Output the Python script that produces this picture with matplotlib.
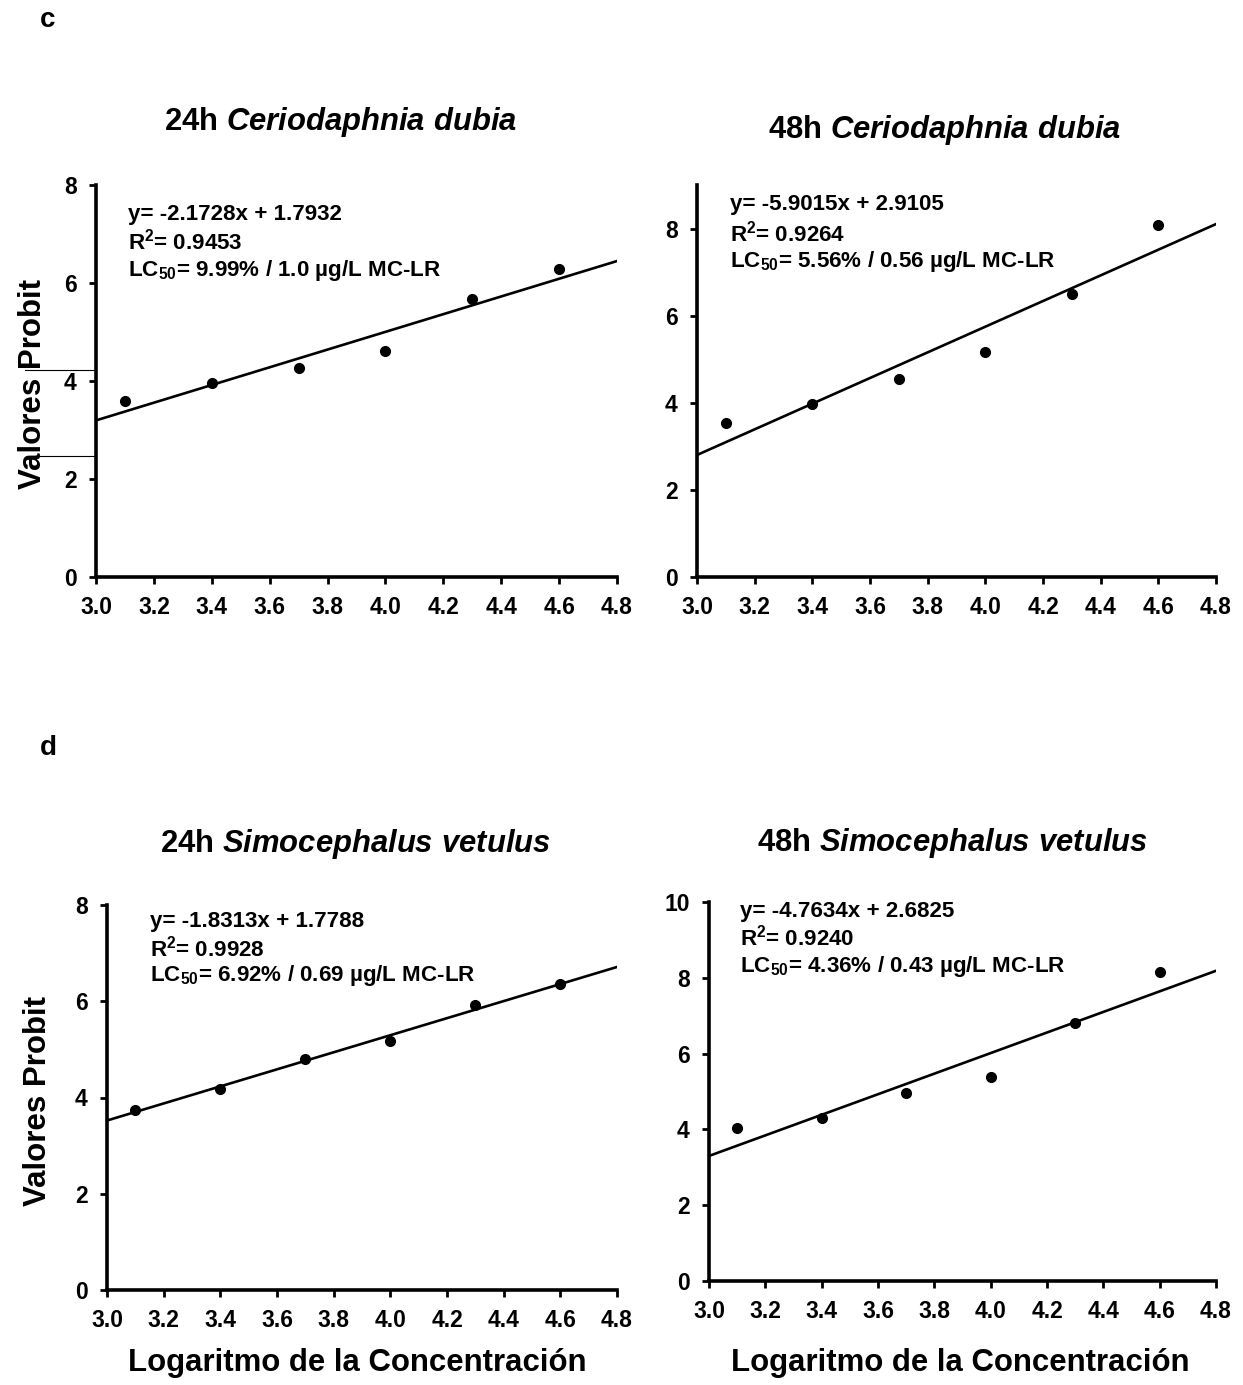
import matplotlib.pyplot as plt
import numpy as np
from matplotlib.lines import Line2D

plt.rcParams['font.family'] = ['Liberation Sans', 'DejaVu Sans']
plt.rcParams['font.weight'] = 'bold'
plt.rcParams['mathtext.fontset'] = 'custom'
plt.rcParams['mathtext.rm'] = 'Liberation Sans:bold'
plt.rcParams['mathtext.bf'] = 'Liberation Sans:bold'
plt.rcParams['mathtext.it'] = 'Liberation Sans:bold:italic'

# log concentration (same for all panels)
log_conc = [3.1, 3.4, 3.7, 4.0, 4.3, 4.6]

# probit values
probit_cd_24 = [3.59, 3.96, 4.27, 4.61, 5.67, 6.29]
probit_cd_48 = [3.54, 3.98, 4.55, 5.17, 6.50, 8.09]
probit_sv_24 = [3.75, 4.17, 4.81, 5.17, 5.92, 6.35]
probit_sv_48 = [4.04, 4.30, 4.96, 5.38, 6.81, 8.15]

titles = [r"24h $\mathit{Ceriodaphnia\ dubia}$", r"48h $\mathit{Ceriodaphnia\ dubia}$",
          r"24h $\mathit{Simocephalus\ vetulus}$", r"48h $\mathit{Simocephalus\ vetulus}$"]

eq_lines = [
    ["y= -2.1728x + 1.7932", r"R$^2$= 0.9453", r"LC$_{50}$= 9.99% / 1.0 µg/L MC-LR"],
    ["y= -5.9015x + 2.9105", r"R$^2$= 0.9264", r"LC$_{50}$= 5.56% / 0.56 µg/L MC-LR"],
    ["y= -1.8313x + 1.7788", r"R$^2$= 0.9928", r"LC$_{50}$= 6.92% / 0.69 µg/L MC-LR"],
    ["y= -4.7634x + 2.6825", r"R$^2$= 0.9240", r"LC$_{50}$= 4.36% / 0.43 µg/L MC-LR"],
]

y_tops = [8, 9, 8, 10]
y_ticks = [[0, 2, 4, 6, 8], [0, 2, 4, 6, 8], [0, 2, 4, 6, 8], [0, 2, 4, 6, 8, 10]]
x_ticks = [3.0, 3.2, 3.4, 3.6, 3.8, 4.0, 4.2, 4.4, 4.6, 4.8]

W, H = 1243, 1385
fig = plt.figure(figsize=(W / 100, H / 100), dpi=100)

# axes boxes in pixels: left, right, top, bottom
boxes = [(96, 617, 185, 577), (697, 1216, 185, 577),
         (107, 617, 905, 1290), (709, 1216, 902, 1281)]
# text anchor (axes fraction x, y of three lines)
txt_pos = [(0.061, [0.926, 0.857, 0.783]),
           (0.064, [0.949, 0.875, 0.804]),
           (0.084, [0.958, 0.888, 0.816]),
           (0.061, [0.976, 0.905, 0.831])]
title_pos = [(341, 122), (945, 130), (355, 844), (952, 843)]

data = [probit_cd_24, probit_cd_48, probit_sv_24, probit_sv_48]

for i in range(4):
    l, r, t, b = boxes[i]
    ax = fig.add_axes([l / W, 1 - b / H, (r - l) / W, (b - t) / H])
    y = np.array(data[i])
    x = np.array(log_conc)
    ax.plot(x, y, 'o', color='black', markersize=7)
    slope, icpt = np.polyfit(x, y, 1)
    xx = np.array([3.0, 4.8])
    ax.plot(xx, slope * xx + icpt, color='black', lw=1.9)
    ax.set_xlim(3.0, 4.8)
    ax.set_ylim(0, y_tops[i])
    ax.set_xticks(x_ticks)
    ax.set_xticklabels([f"{v:.1f}" for v in x_ticks])
    ax.set_yticks(y_ticks[i])
    for s in ['top', 'right']:
        ax.spines[s].set_visible(False)
    for s in ['left', 'bottom']:
        ax.spines[s].set_linewidth(2.6)
    ax.tick_params(direction='out', length=5, width=2, labelsize=16.5)
    ax.tick_params(axis='x', pad=9)
    ax.tick_params(axis='y', pad=9)
    for lab in ax.get_xticklabels() + ax.get_yticklabels():
        lab.set_fontweight('bold')
    tx, tys = txt_pos[i]
    for line, ty in zip(eq_lines[i], tys):
        ax.text(tx, ty, line, transform=ax.transAxes, fontsize=16.1,
                fontweight='bold', va='center', ha='left')
    cx, cy = title_pos[i]
    fig.text(cx / W, 1 - cy / H, titles[i], fontsize=22.3, fontweight='bold',
             ha='center', va='center')

# y labels
fig.text(33 / W, 1 - 384 / H, "Valores Probit", rotation=90, fontsize=22.5,
         fontweight='bold', ha='center', va='center')
fig.text(38 / W, 1 - 1101 / H, "Valores Probit", rotation=90, fontsize=22.5,
         fontweight='bold', ha='center', va='center')
# x labels
fig.text(357 / W, 1 - 1363 / H, "Logaritmo de la Concentración", fontsize=22.4,
         fontweight='bold', ha='center', va='center')
fig.text(960 / W, 1 - 1363 / H, "Logaritmo de la Concentración", fontsize=22.4,
         fontweight='bold', ha='center', va='center')

# panel letters
fig.text(48 / W, 1 - 20 / H, "c", fontsize=20, fontweight='bold', ha='center', va='center')
fig.text(48 / W, 1 - 748 / H, "d", fontsize=20, fontweight='bold', ha='center', va='center')

# stray thin lines across the first y label
fig.add_artist(Line2D([25 / W, 96 / W], [1 - 370 / H, 1 - 370 / H], color='black', lw=0.8))
fig.add_artist(Line2D([30 / W, 96 / W], [1 - 456 / H, 1 - 456 / H], color='black', lw=0.8))

fig.savefig('out.png', dpi=100)
